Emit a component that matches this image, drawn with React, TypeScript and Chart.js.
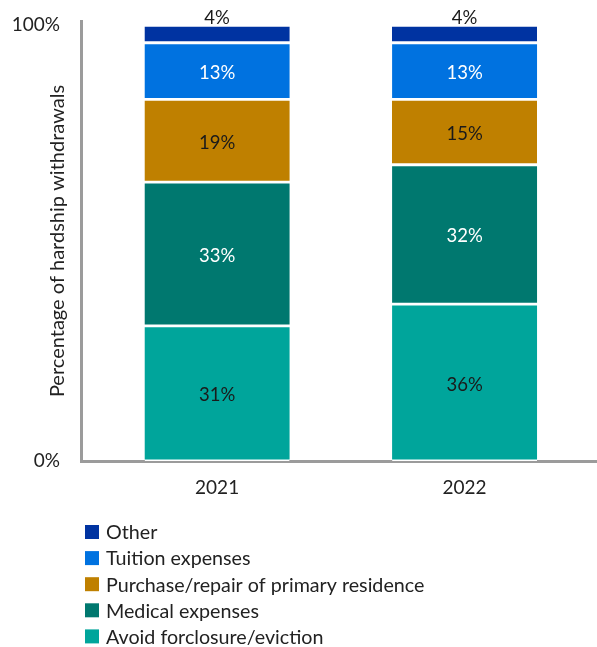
import React, { useEffect, useRef } from 'react';
import { Chart, registerables } from 'chart.js';

Chart.register(...registerables);

// ---- data ----
const categories = ['2021', '2022'];
const seriesNames = [
  'Avoid forclosure/eviction',
  'Medical expenses',
  'Purchase/repair of primary residence',
  'Tuition expenses',
  'Other',
];
const avoidForeclosure = [31, 36];
const medicalExpenses = [33, 32];
const purchaseRepair = [19, 15];
const tuitionExpenses = [13, 13];
const otherReasons = [4, 4];
const yTickValues = [0, 100];
const yAxisTitle = 'Percentage of hardship withdrawals';

const seriesValues = [avoidForeclosure, medicalExpenses, purchaseRepair, tuitionExpenses, otherReasons];

// ---- styles ----
const colors = ['#00a59b', '#00786f', '#bf8000', '#0072e0', '#0033a1'];
const labelColors = ['#1a1a1a', '#ffffff', '#1a1a1a', '#ffffff', '#1a1a1a'];
const FONT = 'Lato, "Noto Sans", sans-serif';
const TEXT = '#222222';
const AXIS = '#9b9b9b';

const barLabels = {
  id: 'barLabels',
  afterDatasetsDraw(chart: any) {
    const ctx = chart.ctx;
    ctx.save();
    ctx.font = `18.5px ${FONT}`;
    ctx.textAlign = 'center';
    ctx.textBaseline = 'middle';
    const n = chart.data.datasets.length;
    chart.data.datasets.forEach((ds: any, di: number) => {
      const meta = chart.getDatasetMeta(di);
      const outside = di === n - 1;
      meta.data.forEach((el: any, i: number) => {
        const { x, y, base } = el.getProps(['x', 'y', 'base'], true);
        ctx.fillStyle = labelColors[di];
        const ty = outside ? Math.min(y, base) - 7 : (y + base) / 2 + 2;
        ctx.fillText(`${ds.data[i]}%`, x, ty);
      });
    });
    ctx.restore();
  },
};

const vLegend = {
  id: 'vLegend',
  afterDraw(chart: any) {
    const ctx = chart.ctx;
    ctx.save();
    ctx.font = `19.7px ${FONT}`;
    ctx.textAlign = 'left';
    ctx.textBaseline = 'middle';
    const n = chart.data.datasets.length;
    const top = chart.chartArea.bottom + 71;
    for (let k = 0; k < n; k++) {
      const di = n - 1 - k;
      const ds = chart.data.datasets[di];
      const cy = top + k * 26.1;
      ctx.fillStyle = ds.backgroundColor;
      ctx.fillRect(85, cy - 7, 14, 14);
      ctx.fillStyle = TEXT;
      ctx.fillText(ds.label, 106, cy + 1);
    }
    ctx.restore();
  },
};

export default function App() {
  const ref = useRef<HTMLCanvasElement | null>(null);

  useEffect(() => {
    if (!ref.current) return;
    const chart = new Chart(ref.current, {
      type: 'bar',
      data: {
        labels: categories,
        datasets: seriesValues.map((vals, i) => ({
          label: seriesNames[i],
          data: vals,
          backgroundColor: colors[i],
          borderColor: '#ffffff',
          borderWidth: { top: 1.75, bottom: 1.75, left: 0, right: 0 },
          borderSkipped: false,
          barThickness: 145,
        })),
      },
      options: {
        responsive: false,
        animation: false,
        layout: { padding: { top: 21, bottom: 140, left: 0, right: 0 } },
        plugins: {
          legend: { display: false },
          tooltip: { enabled: false },
        },
        scales: {
          x: {
            type: 'linear',
            stacked: true,
            offset: false,
            min: 2020.45,
            max: 2022.535,
            z: 1,
            grid: { display: false, drawTicks: false, offset: false },
            border: { color: AXIS, width: 3 },
            afterBuildTicks: (s: any) => {
              s.ticks = categories.map((c) => ({ value: Number(c) }));
            },
            afterFit: (s: any) => {
              s.height = 46;
              s.paddingLeft = 0;
              s.paddingRight = 0;
            },
            ticks: {
              callback: (v: any) => String(v),
              font: { family: FONT, size: 19 },
              color: TEXT,
              padding: 15,
              maxRotation: 0,
              autoSkip: false,
            },
          },
          y: {
            stacked: true,
            min: 0,
            max: 101,
            z: 1,
            grid: { display: false, drawTicks: false },
            border: { color: AXIS, width: 3 },
            afterBuildTicks: (s: any) => {
              s.ticks = yTickValues.map((v) => ({ value: v }));
            },
            afterFit: (s: any) => {
              s.width = 81;
              s.paddingTop = 0;
              s.paddingBottom = 0;
            },
            ticks: {
              callback: (v: any) => `${v}%`,
              font: { family: FONT, size: 19 },
              color: TEXT,
              padding: 21,
            },
            title: {
              display: true,
              text: yAxisTitle,
              font: { family: FONT, size: 20 },
              color: TEXT,
              padding: { top: 46, bottom: 0 },
            },
          },
        },
      } as any,
      plugins: [barLabels, vLegend],
    });
    return () => chart.destroy();
  }, []);

  return (
    <canvas
      ref={ref}
      width={597}
      height={647}
      style={{ position: 'absolute', left: 0, top: 0, display: 'block' }}
    />
  );
}
